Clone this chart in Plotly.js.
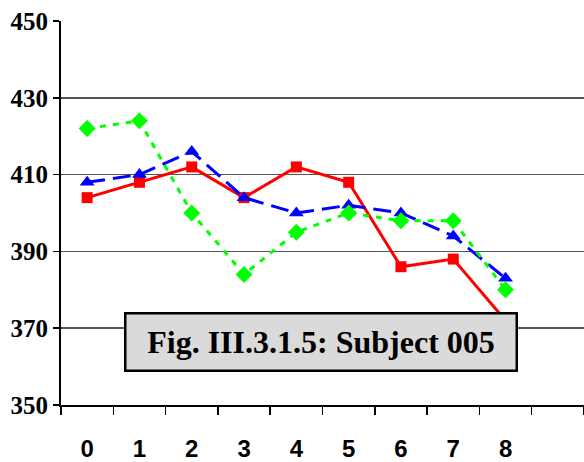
<!DOCTYPE html>
<html>
<head>
<meta charset="utf-8">
<script src="https://cdn.plot.ly/plotly-3.0.1.min.js"></script>
<style>html,body{margin:0;padding:0;background:#fff;}#chart{width:584px;height:462px;}</style>
</head>
<body>
<div id="chart"></div>
<script>
const categories = [0, 1, 2, 3, 4, 5, 6, 7, 8];
const tickLabels = ["0", "1", "2", "3", "4", "5", "6", "7", "8"];
const redValues = [404, 408, 412, 404, 412, 408, 386, 388, 372];
const blueValues = [408, 410, 416, 404, 400, 402, 400, 394, 383];
const greenValues = [422, 424, 400, 384, 395, 400, 398, 398, 380];
const boundaries = [-0.5, 0.5, 1.5, 2.5, 3.5, 4.5, 5.5, 6.5, 7.5, 8.5, 9.5];
const yTicks = [350, 370, 390, 410, 430, 450];
const figTitle = "Fig. III.3.1.5: Subject 005";

const traces = [
  {x: categories, y: redValues, type: 'scatter', mode: 'lines+markers',
   line: {color: '#ff0000', width: 3}, marker: {symbol: 'square', size: 11, color: '#ff0000'}},
  {x: categories, y: blueValues, type: 'scatter', mode: 'lines+markers',
   line: {color: '#0000ff', width: 3, dash: '18px,8px'}, marker: {symbol: 'triangle-up', size: 13, color: '#0000ff'}},
  {x: categories, y: greenValues, type: 'scatter', mode: 'lines+markers',
   line: {color: '#00ff00', width: 3, dash: '6px,7px'}, marker: {symbol: 'diamond', size: 13, color: '#00ff00'}},
  {x: categories, y: redValues, xaxis: 'x2', type: 'scatter', mode: 'none', hoverinfo: 'skip', showlegend: false}
];

const layout = {
  width: 584, height: 462,
  margin: {l: 61, r: 0, t: 21, b: 57},
  paper_bgcolor: '#ffffff', plot_bgcolor: '#ffffff',
  showlegend: false,
  xaxis: {
    range: [-0.5, 9.5], tickmode: 'array', tickvals: boundaries,
    ticktext: boundaries.map(() => ''), ticks: 'outside', ticklen: 8, tickwidth: 1.5, tickcolor: '#000',
    showgrid: false, zeroline: false, showline: true, linecolor: '#000', linewidth: 2
  },
  xaxis2: {
    overlaying: 'x', range: [-0.5, 9.5], tickmode: 'array', tickvals: categories,
    ticktext: tickLabels.map(t => '<b>' + t + '</b>'),
    ticks: '', showgrid: false, zeroline: false, showline: false, side: 'bottom', anchor: 'y',
    ticklabelstandoff: 27,
    tickfont: {family: 'Liberation Sans Narrow, Liberation Sans, Arial, sans-serif', size: 24, color: '#000'}
  },
  yaxis: {
    range: [350, 450], tickmode: 'array', tickvals: yTicks,
    ticktext: yTicks.map(t => '<b>' + t + '</b>'),
    ticks: 'outside', ticklen: 6, tickwidth: 1.5, tickcolor: '#000',
    showgrid: true, gridcolor: '#555555', gridwidth: 1.5, zeroline: false,
    showline: true, linecolor: '#000', linewidth: 2,
    tickfont: {family: '"Liberation Serif", "Times New Roman", serif', size: 25, color: '#000'}
  },
  annotations: [{
    xref: 'paper', yref: 'paper', x: 0.498, y: 0.163, xanchor: 'center', yanchor: 'middle',
    text: '<b>' + figTitle + '</b>', showarrow: false,
    font: {family: '"Liberation Serif", "Times New Roman", serif', size: 32, color: '#000'},
    bgcolor: '#dadada', bordercolor: '#000', borderwidth: 2.5, borderpad: 0,
    width: 389, height: 55
  }]
};

Plotly.newPlot('chart', traces, layout, {displayModeBar: false, staticPlot: true});
</script>
</body>
</html>
